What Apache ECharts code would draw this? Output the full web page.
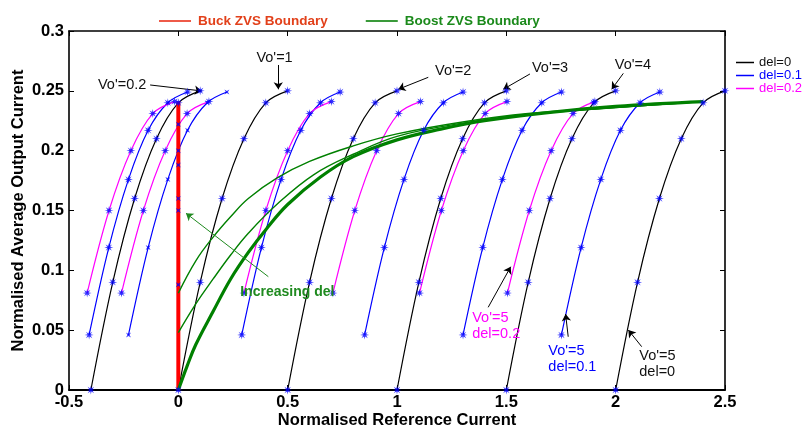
<!DOCTYPE html>
<html>
<head>
<meta charset="utf-8">
<script src="https://cdn.jsdelivr.net/npm/echarts@6/dist/echarts.min.js"></script>
<style>
  html, body { margin: 0; padding: 0; background: #fff; }
  #chart { width: 803px; height: 429px; }
</style>
</head>
<body>
<div id="chart"></div>
<script>
// ---- axis ticks ----
const xTicks = [-0.5, 0, 0.5, 1, 1.5, 2, 2.5];
const yTicks = [0, 0.05, 0.1, 0.15, 0.2, 0.25, 0.3];

// ---- output current along each curve, per del ----
const del0Y  = [0, 0.09, 0.16, 0.21, 0.24, 0.25];
const del01Y = [0.046, 0.119, 0.176, 0.217, 0.240, 0.249];
const del02Y = [0.081, 0.150, 0.200, 0.231, 0.241];

// ---- reference current of the points on each curve ----
// del = 0
const del0_vo02X = [-0.4, -0.3, -0.2, -0.1, 0, 0.1];
const del0_vo1X  = [0, 0.1, 0.2, 0.3, 0.4, 0.5];
const del0_vo2X  = [0.5, 0.6, 0.7, 0.8, 0.9, 1.0];
const del0_vo3X  = [1.0, 1.1, 1.2, 1.3, 1.4, 1.5];
const del0_vo4X  = [1.5, 1.6, 1.7, 1.8, 1.9, 2.0];
const del0_vo5X  = [2.0, 2.1, 2.2, 2.3, 2.4, 2.5];
// del = 0.1
const del01_vo02X = [-0.408, -0.318, -0.228, -0.138, -0.048, 0.042];
const del01_vo1X  = [-0.228, -0.138, -0.048, 0.042, 0.132, 0.222];
const del01_vo2X  = [0.29, 0.38, 0.47, 0.56, 0.65, 0.74];
const del01_vo3X  = [0.852, 0.942, 1.032, 1.122, 1.212, 1.302];
const del01_vo4X  = [1.302, 1.392, 1.482, 1.572, 1.662, 1.752];
const del01_vo5X  = [1.752, 1.842, 1.932, 2.022, 2.112, 2.202];
// del = 0.2
const del02_vo02X = [-0.417, -0.317, -0.217, -0.117, -0.017];
const del02_vo1X  = [-0.26, -0.16, -0.06, 0.04, 0.14];
const del02_vo2X  = [0.30, 0.40, 0.50, 0.60, 0.70];
const del02_vo3X  = [0.707, 0.807, 0.907, 1.007, 1.107];
const del02_vo4X  = [1.103, 1.203, 1.303, 1.403, 1.503];
const del02_vo5X  = [1.505, 1.605, 1.705, 1.805, 1.905];

// ---- buck ZVS boundary (vertical at zero reference current) ----
const buckX = [0, 0];
const buckY = [0, 0.241];
const buckMarkY = [0.088, 0.150, 0.160, 0.188, 0.200, 0.222];

// ---- boost ZVS boundaries for del = 0, 0.1, 0.2 ----
const boost0X  = [0, 0.04, 0.08, 0.16, 0.24, 0.32, 0.4, 0.5, 0.65, 0.8, 1.0, 1.2, 1.4, 1.7, 2.0, 2.4];
const boost0Y  = [0, 0.02, 0.038, 0.066, 0.093, 0.115, 0.134, 0.155, 0.178, 0.195, 0.209, 0.218, 0.225, 0.232, 0.237, 0.241];
const boost01X = [0, 0.08, 0.16, 0.24, 0.32, 0.45, 0.62, 0.8, 1.0, 1.3, 1.6, 2.0, 2.4];
const boost01Y = [0.048, 0.072, 0.093, 0.113, 0.131, 0.155, 0.180, 0.197, 0.212, 0.223, 0.230, 0.236, 0.241];
const boost02X = [0, 0.08, 0.16, 0.24, 0.32, 0.45, 0.6, 0.8, 1.0, 1.3, 1.6, 2.0, 2.4];
const boost02Y = [0.081, 0.108, 0.128, 0.145, 0.160, 0.177, 0.191, 0.204, 0.214, 0.224, 0.231, 0.236, 0.241];

// ---- annotation text (data coordinates) ----
const noteTexts = [
  { text: "Vo'=0.2", x: -0.257, y: 0.2549, color: '#111', align: 'center' },
  { text: "Vo'=1",   x: 0.44,   y: 0.2772, color: '#111', align: 'center' },
  { text: "Vo'=2",   x: 1.257,  y: 0.2668, color: '#111', align: 'center' },
  { text: "Vo'=3",   x: 1.70,   y: 0.2688, color: '#111', align: 'center' },
  { text: "Vo'=4",   x: 2.079,  y: 0.2716, color: '#111', align: 'center' },
  { text: "Vo'=5\ndel=0.2", x: 1.344, y: 0.0536, color: '#ff00ff', align: 'left' },
  { text: "Vo'=5\ndel=0.1", x: 1.692, y: 0.0263, color: '#0000ff', align: 'left' },
  { text: "Vo'=5\ndel=0",   x: 2.108, y: 0.0219, color: '#111', align: 'left' }
];
const noteArrows = [
  { from: [-0.129, 0.2549], to: [0.107, 0.2499], color: '#000' },
  { from: [0.457, 0.2716],  to: [0.457, 0.2513], color: '#000' },
  { from: [1.143, 0.2613],  to: [1.006, 0.2513], color: '#000' },
  { from: [1.608, 0.2641],  to: [1.486, 0.2513], color: '#000' },
  { from: [2.035, 0.2646],  to: [1.982, 0.2513], color: '#000' },
  { from: [1.417, 0.0691],  to: [1.520, 0.1030], color: '#000' },
  { from: [1.783, 0.0445],  to: [1.771, 0.0635], color: '#000' },
  { from: [2.119, 0.0362],  to: [2.058, 0.0501], color: '#000' },
  { from: [0.4115, 0.0947], to: [0.035, 0.1477], color: '#1f8a1f' }
];
const delNote = { text: 'Increasing del', x: 0.283, y: 0.0821 };

// ---- helpers ----
const FONT = "'Liberation Sans', Arial, Helvetica, sans-serif";
const BLUE = '#0000ff', MAGENTA = '#ff00ff', BLACK = '#000000', RED = '#ff0000', GREEN = '#008000';

function starPath(n, rOut, rIn, rot) {
  let d = '';
  for (let i = 0; i < 2 * n; i++) {
    const a = Math.PI * i / n + rot;
    const r = i % 2 ? rIn : rOut;
    d += (i ? 'L' : 'M') + (r * Math.cos(a)).toFixed(3) + ',' + (r * Math.sin(a)).toFixed(3);
  }
  return 'path://' + d + 'Z';
}
const ASTERISK = starPath(8, 10, 3.6, -Math.PI / 2);
const CROSS = starPath(4, 10, 3.0, Math.PI / 4);

function zip(xs, ys) { return xs.map((x, i) => [x, ys[i]]); }

const curves = [
  { name: 'del=0',   color: BLACK,   xs: del0_vo02X, ys: del0Y, mark: 'star' },
  { name: 'del=0',   color: BLACK,   xs: del0_vo1X,  ys: del0Y, mark: 'star' },
  { name: 'del=0',   color: BLACK,   xs: del0_vo2X,  ys: del0Y, mark: 'star' },
  { name: 'del=0',   color: BLACK,   xs: del0_vo3X,  ys: del0Y, mark: 'star' },
  { name: 'del=0',   color: BLACK,   xs: del0_vo4X,  ys: del0Y, mark: 'star' },
  { name: 'del=0',   color: BLACK,   xs: del0_vo5X,  ys: del0Y, mark: 'star' },
  { name: 'del=0.1', color: BLUE,    xs: del01_vo02X, ys: del01Y, mark: 'star' },
  { name: 'del=0.1', color: BLUE,    xs: del01_vo1X,  ys: del01Y, mark: 'cross' },
  { name: 'del=0.1', color: BLUE,    xs: del01_vo2X,  ys: del01Y, mark: 'star' },
  { name: 'del=0.1', color: BLUE,    xs: del01_vo3X,  ys: del01Y, mark: 'star' },
  { name: 'del=0.1', color: BLUE,    xs: del01_vo4X,  ys: del01Y, mark: 'star' },
  { name: 'del=0.1', color: BLUE,    xs: del01_vo5X,  ys: del01Y, mark: 'star' },
  { name: 'del=0.2', color: MAGENTA, xs: del02_vo02X, ys: del02Y, mark: 'star' },
  { name: 'del=0.2', color: MAGENTA, xs: del02_vo1X,  ys: del02Y, mark: 'star' },
  { name: 'del=0.2', color: MAGENTA, xs: del02_vo2X,  ys: del02Y, mark: 'star' },
  { name: 'del=0.2', color: MAGENTA, xs: del02_vo3X,  ys: del02Y, mark: 'star' },
  { name: 'del=0.2', color: MAGENTA, xs: del02_vo4X,  ys: del02Y, mark: 'star' },
  { name: 'del=0.2', color: MAGENTA, xs: del02_vo5X,  ys: del02Y, mark: 'star' }
];

const series = [];

// family curves
curves.forEach(c => {
  series.push({
    name: c.name, type: 'line', data: zip(c.xs, c.ys),
    smooth: 0.35, showSymbol: false, silent: true, z: 2,
    color: c.color, lineStyle: { color: c.color, width: 1.2 }
  });
});

// buck boundary
series.push({
  name: 'Buck ZVS Boundary', type: 'line', data: zip(buckX, buckY),
  showSymbol: false, z: 3, color: RED, lineStyle: { color: RED, width: 4 }
});

// boost boundaries
[[boost0X, boost0Y, 3.2], [boost01X, boost01Y, 1.4], [boost02X, boost02Y, 1.4]].forEach(b => {
  series.push({
    name: 'Boost ZVS Boundary', type: 'line', data: zip(b[0], b[1]),
    smooth: 0.4, showSymbol: false, z: 4, color: GREEN,
    lineStyle: { color: GREEN, width: b[2] }
  });
});

// point markers
const starPts = [], crossPts = [];
curves.forEach(c => {
  (c.mark === 'star' ? starPts : crossPts).push(...zip(c.xs, c.ys));
});
buckMarkY.forEach(y => crossPts.push([0, y]));
series.push({
  name: 'points', type: 'scatter', data: starPts, symbol: ASTERISK, symbolSize: 9,
  itemStyle: { color: BLUE }, z: 6, silent: true
});
series.push({
  name: 'points-x', type: 'scatter', data: crossPts, symbol: CROSS, symbolSize: 5,
  itemStyle: { color: BLUE }, z: 6, silent: true
});

// annotation arrows
series.push({
  name: 'notes', type: 'line', data: [], z: 7,
  markLine: {
    silent: true, animation: false,
    symbol: ['none', 'arrow'], symbolSize: 7,
    label: { show: false },
    data: noteArrows.map(a => [
      { coord: a.from, lineStyle: { color: a.color, width: 1, type: 'solid' }, itemStyle: { color: a.color } },
      { coord: a.to }
    ])
  }
});

const axisLabelStyle = { fontFamily: FONT, fontWeight: 'bold', fontSize: 16.5, color: '#000' };
const nameStyle = { fontFamily: FONT, fontWeight: 'bold', fontSize: 16.5, color: '#000' };

const option = {
  animation: false,
  backgroundColor: '#fff',
  grid: { left: 69, right: 78, top: 31, bottom: 39, outerBoundsMode: 'none', containLabel: false },
  legend: [
    {
      left: 154, top: 9, itemWidth: 32, itemHeight: 2, itemGap: 38, icon: 'rect',
      selectedMode: false,
      textStyle: { fontFamily: FONT, fontWeight: 'bold', fontSize: 13.5, padding: [0, 0, 0, 2] },
      data: [
        { name: 'Buck ZVS Boundary', itemStyle: { color: '#ee5a48' }, textStyle: { color: '#e2401a' } },
        { name: 'Boost ZVS Boundary', itemStyle: { color: '#3a9a3a' }, textStyle: { color: '#1b8a1b' } }
      ]
    },
    {
      left: 731, top: 51, orient: 'vertical', itemWidth: 18, itemHeight: 1.5, itemGap: 0, icon: 'rect',
      selectedMode: false,
      textStyle: { fontFamily: FONT, fontSize: 13 },
      data: [
        { name: 'del=0', itemStyle: { color: BLACK }, textStyle: { color: '#111' } },
        { name: 'del=0.1', itemStyle: { color: BLUE }, textStyle: { color: BLUE } },
        { name: 'del=0.2', itemStyle: { color: MAGENTA }, textStyle: { color: MAGENTA } }
      ]
    }
  ],
  xAxis: [
    {
      type: 'value', min: xTicks[0], max: xTicks[xTicks.length - 1], interval: 0.5,
      position: 'bottom',
      name: 'Normalised Reference Current', nameLocation: 'middle', nameGap: 22,
      nameMoveOverlap: false,
      nameTextStyle: nameStyle,
      axisLine: { onZero: false, lineStyle: { color: '#000', width: 1.8 } },
      axisTick: { inside: true, length: 5, lineStyle: { color: '#000', width: 1 } },
      axisLabel: Object.assign({ margin: 4 }, axisLabelStyle),
      splitLine: { show: false }
    },
    {
      type: 'value', min: xTicks[0], max: xTicks[xTicks.length - 1], interval: 0.5,
      position: 'top',
      axisLine: { onZero: false, lineStyle: { color: '#000', width: 1.6 } },
      axisTick: { inside: true, length: 5, lineStyle: { color: '#000', width: 1 } },
      axisLabel: { show: false }, splitLine: { show: false }
    }
  ],
  yAxis: [
    {
      type: 'value', min: yTicks[0], max: yTicks[yTicks.length - 1], interval: 0.05,
      position: 'left',
      name: 'Normalised Average Output Current', nameLocation: 'middle', nameGap: 42,
      nameMoveOverlap: false,
      nameTextStyle: nameStyle,
      axisLine: { onZero: false, lineStyle: { color: '#000', width: 1.6 } },
      axisTick: { inside: true, length: 5, lineStyle: { color: '#000', width: 1 } },
      axisLabel: Object.assign({ margin: 5 }, axisLabelStyle),
      splitLine: { show: false }
    },
    {
      type: 'value', min: yTicks[0], max: yTicks[yTicks.length - 1], interval: 0.05,
      position: 'right',
      axisLine: { onZero: false, lineStyle: { color: '#000', width: 1.6 } },
      axisTick: { inside: true, length: 5, lineStyle: { color: '#000', width: 1 } },
      axisLabel: { show: false }, splitLine: { show: false }
    }
  ],
  series: series
};

const chart = echarts.init(document.getElementById('chart'), null, { renderer: 'canvas' });
chart.setOption(option);

// annotation text, placed from data coordinates
const toPx = (x, y) => chart.convertToPixel({ xAxisIndex: 0, yAxisIndex: 0 }, [x, y]);
const graphics = noteTexts.map(n => {
  const p = toPx(n.x, n.y);
  return {
    type: 'text', x: p[0], y: p[1], z: 20, silent: true,
    style: {
      text: n.text, fill: n.color, font: '14.5px ' + FONT,
      align: n.align, verticalAlign: 'middle', lineHeight: 16
    }
  };
});
const dp = toPx(delNote.x, delNote.y);
graphics.push({
  type: 'text', x: dp[0], y: dp[1], z: 20, silent: true,
  style: { text: delNote.text, fill: '#1f8a1f', font: 'bold 14px ' + FONT, align: 'left', verticalAlign: 'middle' }
});
chart.setOption({ graphic: graphics });
</script>
</body>
</html>
